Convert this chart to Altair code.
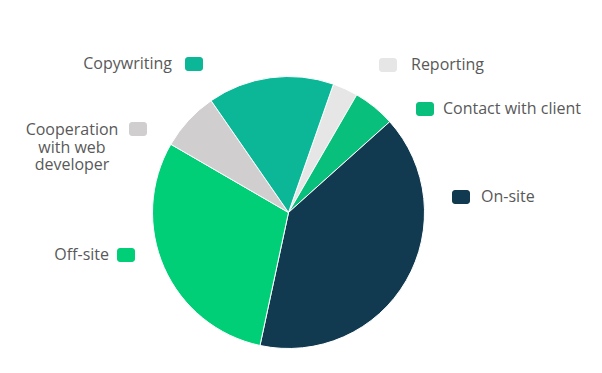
import altair as alt
import pandas as pd

# ---- data ----
categories = ["Reporting", "Contact with client", "On-site", "Off-site",
              "Cooperation with web developer", "Copywriting"]
values = [3, 5, 40, 30, 7, 15]
colors = ["#E6E6E6", "#08BF7C", "#113A50", "#00CF78", "#D0CECF", "#0BB797"]
label_texts = ["Reporting", "Contact with client", "On-site", "Off-site",
               "Cooperation\nwith web\ndeveloper", "Copywriting"]

# ---- layout (pixel positions inside plot area) ----
OFF = 8
CX, CY, R = 288.5 - OFF, 212.5 - OFF, 136
START = 0.337  # radians, clockwise from 12 o'clock
# square marker boxes (page coords) and text anchor (page coords)
layout = {
    "Reporting":          dict(sq=(379, 58, 397, 72),   tx=(411, 65),  side="left"),
    "Contact with client": dict(sq=(416, 102, 434, 116), tx=(443, 109), side="left"),
    "On-site":            dict(sq=(452, 190, 470, 204), tx=(481, 197), side="left"),
    "Off-site":           dict(sq=(117, 248, 135, 262), tx=(109, 255), side="right"),
    "Cooperation with web developer": dict(sq=(129, 122, 147, 136), tx=(72, 130), side="center"),
    "Copywriting":        dict(sq=(185, 57, 203, 71),   tx=(172, 64),  side="right"),
}

order = list(range(len(categories)))
pie_df = pd.DataFrame({"category": categories, "value": values, "order": order})

color_scale = alt.Scale(domain=categories, range=colors)

pie = alt.Chart(pie_df).mark_arc(outerRadius=R, stroke="white", strokeWidth=1).encode(
    theta=alt.Theta("value:Q", stack=True,
                    scale=alt.Scale(range=[START, START + 2 * 3.141592653589793])),
    order=alt.Order("order:Q"),
    color=alt.Color("category:N", scale=color_scale, legend=None),
    x=alt.value(CX), y=alt.value(CY),
)

rows = []
for c, t in zip(categories, label_texts):
    L = layout[c]
    x1, y1, x2, y2 = L["sq"]
    rows.append(dict(category=c, text=t, x1=x1 - OFF, y1=y1 - OFF, x2=x2 - OFF, y2=y2 - OFF,
                     tx=L["tx"][0] - OFF, ty=L["tx"][1] - OFF, side=L["side"]))
lab_df = pd.DataFrame(rows)

squares = alt.Chart(lab_df).mark_rect(cornerRadius=3).encode(
    x=alt.X("x1:Q", scale=None), x2="x2:Q",
    y=alt.Y("y1:Q", scale=None), y2="y2:Q",
    color=alt.Color("category:N", scale=color_scale, legend=None),
)

def text_layer(side, align):
    return alt.Chart(lab_df).transform_filter(alt.datum.side == side).mark_text(
        align=align, baseline="middle", fontSize=16, font="Open Sans",
        color="#595959", lineBreak="\n", lineHeight=17.5,
    ).encode(
        x=alt.X("tx:Q", scale=None), y=alt.Y("ty:Q", scale=None), text="text:N"
    )

chart = alt.layer(
    pie, squares,
    text_layer("left", "left"), text_layer("right", "right"), text_layer("center", "center"),
).properties(
    width=586, height=357, autosize=alt.AutoSizeParams(type="none"), padding=0,
    background="white",
).configure_view(stroke=None)

chart.save("out.html", embed_options={"renderer": "svg", "actions": False})
